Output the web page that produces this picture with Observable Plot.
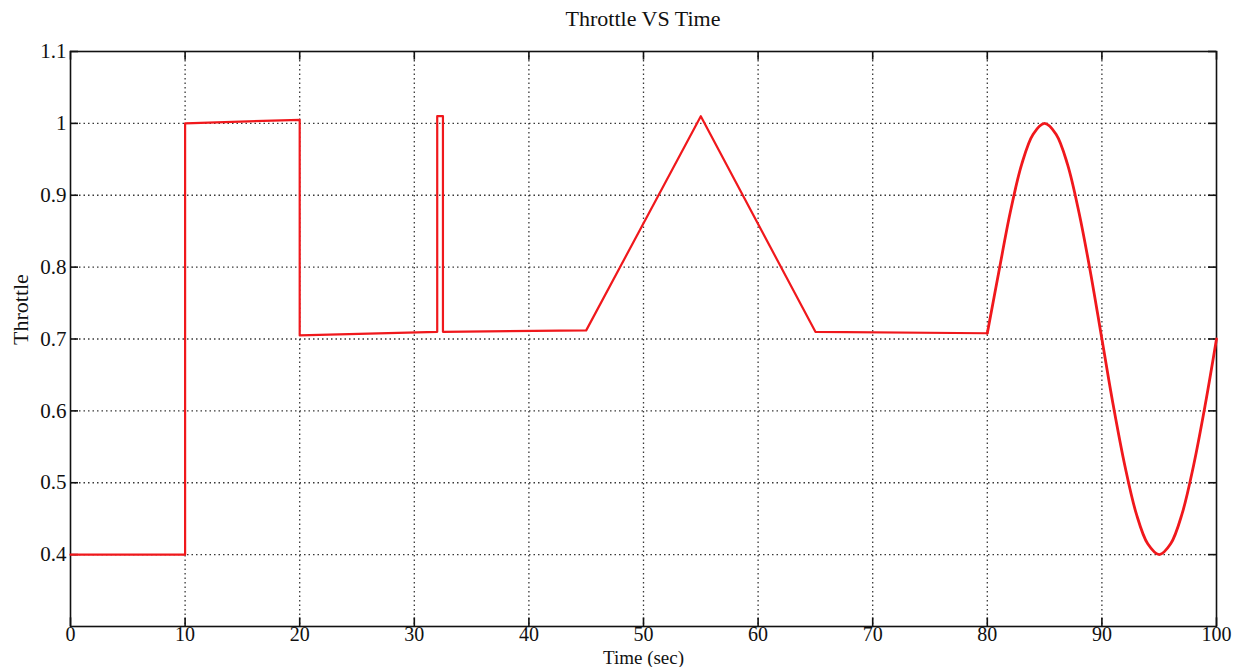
<!DOCTYPE html>
<html>
<head>
<meta charset="utf-8">
<script src="https://cdn.jsdelivr.net/npm/d3@7"></script>
<script src="https://cdn.jsdelivr.net/npm/@observablehq/plot@0.6"></script>
<style>
  html, body { margin: 0; padding: 0; background: #fff; }
  #chart { position: relative; width: 1234px; height: 667px; }
  #title { position: absolute; left: 70px; width: 1146px; top: 6px; text-align: center; line-height: 26px;
           font-family: "Liberation Serif", serif; font-size: 22px; color: #111; }
</style>
</head>
<body>
<div id="chart"><div id="title">Throttle VS Time</div></div>
<script>
// Piecewise-linear part (steps, spike, triangle)
const stepTime     = [0,   10,  10,  20,    20,    32,   32,   32.5, 32.5, 45,    55,   65,   80];
const stepThrottle = [0.4, 0.4, 1.0, 1.005, 0.705, 0.71, 1.01, 1.01, 0.71, 0.712, 1.01, 0.71, 0.708];
// Oscillating part (80-100 s)
const waveTime     = [80, 81, 82, 83, 84, 85, 86, 87, 88, 89, 90, 91, 92, 93, 94, 95, 96, 97, 98, 99, 100];
const waveThrottle = [0.708, 0.793, 0.876, 0.943, 0.985, 1.0, 0.985, 0.943, 0.876, 0.793, 0.7,
                      0.607, 0.524, 0.457, 0.415, 0.4, 0.415, 0.457, 0.524, 0.607, 0.7];
const xTicks = [0, 10, 20, 30, 40, 50, 60, 70, 80, 90, 100];
const yTicks = [0.4, 0.5, 0.6, 0.7, 0.8, 0.9, 1, 1.1];

const stepData = stepTime.map((t, i) => ({t, v: stepThrottle[i]}));
const waveData = waveTime.map((t, i) => ({t, v: waveThrottle[i]}));

const xDom = [0, 100], yDom = [0.3, 1.1];
const tickLenX = 0.012 * (yDom[1] - yDom[0]) / 0.8; // vertical tick length in y units
const tickLenY = 0.7 * (xDom[1] - xDom[0]) / 100;   // horizontal tick length in x units

const plot = Plot.plot({
  width: 1234,
  height: 667,
  marginLeft: 70,
  marginRight: 18,
  marginTop: 51,
  marginBottom: 41,
  style: { fontFamily: "Liberation Serif, serif", fontSize: "21px", background: "#fff", color: "#111" },
  x: { domain: xDom, ticks: xTicks, label: null },
  y: { domain: yDom, ticks: yTicks, label: null },
  marks: [
    Plot.gridX(xTicks.slice(1, -1), { stroke: "#222", strokeOpacity: 0.9, strokeDasharray: "1.5,3", strokeWidth: 1.3 }),
    Plot.gridY(yTicks.slice(0, -1), { stroke: "#222", strokeOpacity: 0.9, strokeDasharray: "1.5,3", strokeWidth: 1.3 }),
    // inward ticks on all four sides
    Plot.ruleX(xTicks, { x: d => d, y1: yDom[0], y2: yDom[0] + tickLenX, stroke: "#111", strokeWidth: 1.6 }),
    Plot.ruleX(xTicks, { x: d => d, y1: yDom[1], y2: yDom[1] - tickLenX, stroke: "#111", strokeWidth: 1.6 }),
    Plot.ruleY(yTicks, { y: d => d, x1: xDom[0], x2: xDom[0] + tickLenY, stroke: "#111", strokeWidth: 1.6 }),
    Plot.ruleY(yTicks, { y: d => d, x1: xDom[1], x2: xDom[1] - tickLenY, stroke: "#111", strokeWidth: 1.6 }),
    Plot.axisX(xTicks, { tickSize: 0, tickPadding: 0, fontSize: 20, fill: "#111" }),
    Plot.axisY(yTicks, { tickSize: 0, tickPadding: 4, fontSize: 21, fill: "#111", tickFormat: d => String(d) }),
    Plot.frame({ stroke: "#111", strokeWidth: 1.6 }),
    Plot.line(stepData, { x: "t", y: "v", stroke: "#f0181c", strokeWidth: 2.2 }),
    Plot.line(waveData, { x: "t", y: "v", stroke: "#f0181c", strokeWidth: 2.8, curve: "catmull-rom" }),
    Plot.text(["Time (sec)"], { frameAnchor: "bottom", dy: 37, fontSize: 19, fill: "#111", text: d => d }),
    Plot.text(["Throttle"], { frameAnchor: "left", dx: -50, dy: 6, rotate: -90, fontSize: 22, fill: "#111", text: d => d })
  ]
});
document.getElementById("chart").appendChild(plot);
</script>
</body>
</html>
